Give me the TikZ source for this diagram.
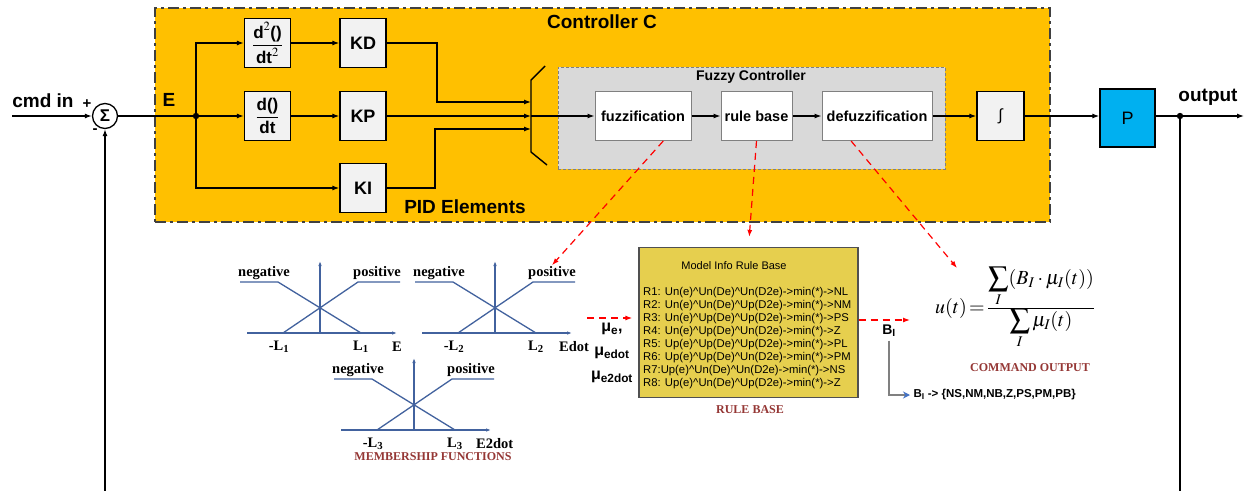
\documentclass[tikz,border=0pt]{standalone}
\usepackage{amsmath}
\usepackage{mathptmx}
\usepackage[no-math]{fontspec}
\setmainfont{Liberation Sans}
\newfontfamily\timesfont{Liberation Serif}
\usetikzlibrary{arrows.meta,positioning}

\definecolor{ctrlorange}{RGB}{255,192,0}
\definecolor{fuzzgray}{RGB}{217,217,217}
\definecolor{blkgray}{RGB}{242,242,242}
\definecolor{plantblue}{RGB}{0,176,240}
\definecolor{ruleyellow}{RGB}{230,207,78}
\definecolor{mfblue}{RGB}{66,98,158}
\definecolor{capred}{RGB}{149,55,53}
\definecolor{arrowblue}{RGB}{68,114,196}
\newcommand{\wedgech}{\textasciicircum}

\begin{document}
\begin{tikzpicture}[x=1pt,y=-1pt,
    >={Latex[length=7pt,width=5pt]},
    line/.style={line width=1.2pt},
    sig/.style={line width=1.2pt,->},
    blk/.style={draw=black,line width=1.3pt,fill=blkgray,minimum width=46,minimum height=49,
      inner sep=1pt,font=\fontsize{17}{18}\selectfont\bfseries},
    fzblk/.style={draw=gray,line width=1pt,fill=white,minimum height=49,
      font=\fontsize{14.5}{16}\selectfont\bfseries},
    title/.style={font=\fontsize{19}{21}\selectfont\bfseries},
    rdash/.style={red,line width=1.2pt,dash pattern=on 7pt off 5pt,-{Latex[length=7pt,width=5pt]}},
    mfline/.style={mfblue,line width=1.3pt},
    mfaxis/.style={mfblue,line width=1.2pt,-{Latex[length=5pt,width=3.5pt]}},
    mflabel/.style={inner sep=1pt,font=\timesfont\bfseries\fontsize{14.5}{15}\selectfont},
    caption/.style={text=capred,font=\timesfont\bfseries\fontsize{12}{13}\selectfont}]
\useasboundingbox[fill=white] (0,0) rectangle (1244,490);

% controller C
\node[draw={rgb,255:red,64;green,64;blue,64},fill=ctrlorange,line width=1.8pt,
  dash pattern=on 11pt off 4pt on 3pt off 4pt,minimum width=895,minimum height=214] (ctrl) at (602.5,115) {};
\node[title] (ctrltitle) at (602,22) {Controller C};
\node[title] (pidtitle) at (465,207) {PID Elements};
% fuzzy controller
\node[draw=gray,fill=fuzzgray,line width=1pt,dash pattern=on 3pt off 2pt,
  minimum width=387,minimum height=102] (fuzzy) at (751.5,118) {};
\node[font=\fontsize{14}{16}\selectfont\bfseries] (fuzzytitle) at (751,77) {Fuzzy Controller};

% input and summing point
\node[title] (cmd) at (43,101) {cmd in};
\coordinate (in) at (12,116);
\node[draw,circle,line width=1.3pt,minimum size=25,inner sep=0pt,
  font=\fontsize{17}{17}\selectfont\bfseries] (sum) at (105,116) {Σ};
\node[font=\fontsize{15}{15}\selectfont\bfseries] (plus) at (87,104) {+};
\node[font=\fontsize{15}{15}\selectfont\bfseries] (minus) at (95,131) {-};
\node[title] (err) at (169,100) {E};
\coordinate (br) at (196,116);

% PID elements
\node[blk] (ddt2) at (267.5,43) {$\dfrac{\text{d}^2\text{()}}{\text{dt}^2}$};
\node[blk] (ddt) at (267.5,116) {$\dfrac{\text{d()}}{\text{dt}}$};
\node[blk,font=\fontsize{18}{19}\selectfont\bfseries] (kd) at (363,43) {KD};
\node[blk,font=\fontsize{18}{19}\selectfont\bfseries] (kp) at (363,116) {KP};
\node[blk,font=\fontsize{18}{19}\selectfont\bfseries] (ki) at (363,188) {KI};

% mux
\draw[line width=1.4pt] (545,66) -- (531,80) -- (531,152) -- (547,165);
\coordinate (mx1) at (531,102);
\coordinate (mx2) at (531,116);
\coordinate (mx3) at (531,129);

% fuzzy blocks, integrator, plant
\node[fzblk,minimum width=96] (fuzz) at (643,116) {fuzzification};
\node[fzblk,minimum width=71] (rule) at (756.5,116) {rule base};
\node[fzblk,minimum width=110] (defuzz) at (877,116) {defuzzification};
\node[blk,minimum width=47,font=\fontsize{16}{16}\selectfont] (integ) at (1000.5,116) {∫};
\node[draw=black,line width=1.3pt,fill=plantblue,minimum width=55,minimum height=58,
  font=\fontsize{18}{18}\selectfont] (plant) at (1127.5,118) {P};
\coordinate (tap) at (1180,116);
\coordinate (out) at (1244,116);
\node[title] (outlbl) at (1208,97) {output};
\coordinate (fbout) at (1180,492);
\coordinate (fbin) at (105,492);

% signal lines
\draw[sig] (in) -- (sum);
\draw[line] (sum) -- (br);
\fill (br) circle (3.2);
\draw[sig] (br) |- (ddt2);
\draw[sig] (br) -- (ddt);
\draw[sig] (br) |- (ki);
\draw[sig] (ddt2) -- (kd);
\draw[sig] (ddt) -- (kp);
\draw[sig] (kd) -- ++(74,0) |- (mx1);
\draw[sig] (kp) -- (mx2);
\draw[sig] (ki) -- ++(72,0) |- (mx3);
\draw[sig] (mx2) -- (fuzz);
\draw[sig] (fuzz) -- (rule);
\draw[sig] (rule) -- (defuzz);
\draw[sig] (defuzz) -- (integ);
\draw[sig] (integ) -- (plant.west |- integ);
\draw[sig] (plant.east |- tap) -- (out);
\fill (tap) circle (3.2);
\draw[line] (tap) -- (fbout);
\draw[sig] (fbin) -- (sum);

% membership functions
\foreach \cx/\cy/\n/\ax/\lx in {320/333/1/E/71, 495/333/2/Edot/63, 414/430/3/E2dot/61} {
  \draw[mfaxis] (\cx-73,\cy) -- (\cx+77,\cy);
  \draw[mfaxis] (\cx,\cy) -- (\cx,\cy-72);
  \draw[mfline] (\cx-80,\cy-51) -- (\cx-42,\cy-51) -- (\cx+41,\cy);
  \draw[mfline] (\cx-37,\cy) -- (\cx+38,\cy-51) -- (\cx+80,\cy-51);
  \node[mflabel] (neg\n) at (\cx-56,\cy-60) {negative};
  \node[mflabel] (pos\n) at (\cx+57,\cy-60) {positive};
  \node[mflabel] (lo\n) at (\cx-41,\cy+14) {-L\textsubscript{\n}};
  \node[mflabel] (hi\n) at (\cx+41,\cy+14) {L\textsubscript{\n}};
  \node[mflabel,anchor=west] (ax\n) at (\cx+\lx,\cy+14) {\ax};
}
\node[caption] (mfcap) at (433,457) {MEMBERSHIP FUNCTIONS};
\node[align=center,font=\fontsize{16}{24}\selectfont\bfseries] (mu) at (612,353)
  {μ\textsubscript{e},\\ μ\textsubscript{edot}\\ μ\textsubscript{e2dot}};

% rule base
\node[draw={rgb,255:red,80;green,80;blue,80},line width=1.3pt,fill=ruleyellow,
  minimum width=219,minimum height=150] (rb) at (748.5,322.5) {};
\node[font=\fontsize{11}{13}\selectfont] (rbtitle) at (734,266) {Model Info Rule Base};
\node[anchor=north west,inner sep=0pt,align=left,font=\fontsize{11.3}{13}\selectfont] (rules) at (643,287) {%
R1: Un(e)\wedgech Un(De)\wedgech Un(D2e)->min(*)->NL\\
R2: Un(e)\wedgech Un(De)\wedgech Up(D2e)->min(*)->NM\\
R3: Un(e)\wedgech Up(De)\wedgech Up(D2e)->min(*)->PS\\
R4: Un(e)\wedgech Up(De)\wedgech Un(D2e)->min(*)->Z\\
R5: Up(e)\wedgech Up(De)\wedgech Up(D2e)->min(*)->PL\\
R6: Up(e)\wedgech Up(De)\wedgech Un(D2e)->min(*)->PM\\
R7:Up(e)\wedgech Un(De)\wedgech Un(D2e)->min(*)->NS\\
R8: Up(e)\wedgech Un(De)\wedgech Up(D2e)->min(*)->Z};
\node[caption] (rbcap) at (750,410) {RULE BASE};
\coordinate (mfout) at (587,318);
\coordinate (bout) at (910,320);

% command output
\node[font=\fontsize{14}{14}\selectfont\bfseries] (bi) at (889,331) {B\textsubscript{I}};
\node[anchor=west,font=\fontsize{11.5}{12}\selectfont\bfseries] (blist) at (910,395)
  {B\textsubscript{I} -> \{NS,NM,NB,Z,PS,PM,PB\}};
\draw[gray,line width=1.3pt,-{Stealth[color=arrowblue,length=7pt,width=7pt]}] (bi.south) |- (blist.west);
\node[font=\fontsize{20}{22}\selectfont] (uform) at (1015,308)
  {$u(t)\!=\!\frac{\displaystyle\sum_I (B_I\cdot\mu_I(t))}{\displaystyle\sum_I\mu_I(t)}$};
\node[caption] (cmdcap) at (1030,368) {COMMAND OUTPUT};
\coordinate (uin) at (957,268);

% zoom arrows
\draw[rdash] (fuzz.-51) -- (pos2.north);
\draw[rdash,shorten >=10pt] (rule.south) -- (rb.north);
\draw[rdash] (defuzz.-136) -- (uin);
\draw[rdash,shorten >=6pt] (mfout) -- (mfout -| rb.west);
\draw[rdash] (rb.east |- bout) -- (bout);
\end{tikzpicture}
\end{document}
